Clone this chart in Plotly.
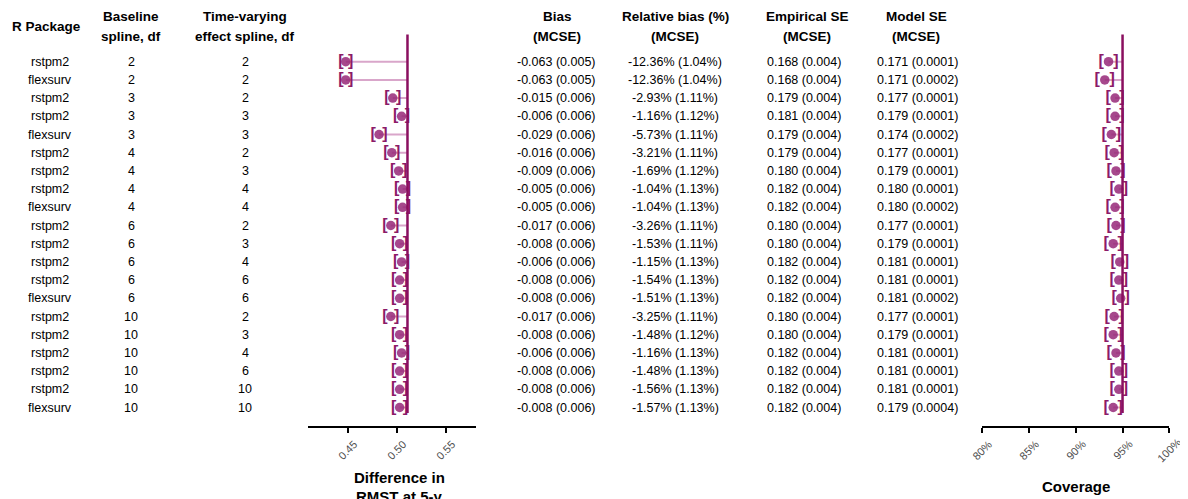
import numpy as np
import plotly.graph_objects as go

# ---------------- data ----------------
packages = ["rstpm2", "flexsurv", "rstpm2", "rstpm2", "flexsurv", "rstpm2", "rstpm2", "rstpm2",
            "flexsurv", "rstpm2", "rstpm2", "rstpm2", "rstpm2", "flexsurv", "rstpm2", "rstpm2",
            "rstpm2", "rstpm2", "rstpm2", "flexsurv"]
baseline_df = [2, 2, 3, 3, 3, 4, 4, 4, 4, 6, 6, 6, 6, 6, 10, 10, 10, 10, 10, 10]
tvc_df = [2, 2, 2, 3, 3, 2, 3, 4, 4, 2, 3, 4, 6, 6, 2, 3, 4, 6, 10, 10]
bias = [-0.063, -0.063, -0.015, -0.006, -0.029, -0.016, -0.009, -0.005, -0.005, -0.017,
        -0.008, -0.006, -0.008, -0.008, -0.017, -0.008, -0.006, -0.008, -0.008, -0.008]
bias_mcse = [0.005, 0.005, 0.006, 0.006, 0.006, 0.006, 0.006, 0.006, 0.006, 0.006,
             0.006, 0.006, 0.006, 0.006, 0.006, 0.006, 0.006, 0.006, 0.006, 0.006]
rel_bias = [-12.36, -12.36, -2.93, -1.16, -5.73, -3.21, -1.69, -1.04, -1.04, -3.26,
            -1.53, -1.15, -1.54, -1.51, -3.25, -1.48, -1.16, -1.48, -1.56, -1.57]
rel_bias_mcse = [1.04, 1.04, 1.11, 1.12, 1.11, 1.11, 1.12, 1.13, 1.13, 1.11,
                 1.11, 1.13, 1.13, 1.13, 1.11, 1.12, 1.13, 1.13, 1.13, 1.13]
emp_se = [0.168, 0.168, 0.179, 0.181, 0.179, 0.179, 0.180, 0.182, 0.182, 0.180,
          0.180, 0.182, 0.182, 0.182, 0.180, 0.180, 0.182, 0.182, 0.182, 0.182]
emp_se_mcse = [0.004] * 20
model_se = [0.171, 0.171, 0.177, 0.179, 0.174, 0.177, 0.179, 0.180, 0.180, 0.177,
            0.179, 0.181, 0.181, 0.181, 0.177, 0.179, 0.181, 0.181, 0.181, 0.179]
model_se_mcse = ["0.0001", "0.0002", "0.0001", "0.0001", "0.0002", "0.0001", "0.0001", "0.0001",
                 "0.0002", "0.0001", "0.0001", "0.0001", "0.0001", "0.0002", "0.0001", "0.0001",
                 "0.0001", "0.0001", "0.0001", "0.0004"]
coverage = [93.5, 93.1, 94.2, 94.2, 93.8, 94.1, 94.3, 94.6, 94.2, 94.3,
            94.0, 94.7, 94.6, 94.8, 94.1, 94.0, 94.3, 94.6, 94.6, 94.0]
true_value = 0.511
nominal_coverage = 95
n_sim = 1000

rmst_ticks = [0.45, 0.50, 0.55]
cov_ticks = [80, 85, 90, 95, 100]

headers = [("R Package", None), ("Baseline", "spline, df"), ("Time-varying", "effect spline, df"),
           ("Bias", "(MCSE)"), ("Relative bias (%)", "(MCSE)"), ("Empirical SE", "(MCSE)"),
           ("Model SE", "(MCSE)")]

# ---------------- styling ----------------
OFF = 8                      # page body margin
W, H = 1188 - OFF, 499 - OFF
FONT = "Liberation Sans, Arial, Helvetica, sans-serif"
DARK = "#8a0f5f"
PT = "rgba(150,40,120,0.85)"
SEG = "#d9a6ca"
BR = "#8c1a68"
row_y0, row_dy = 61.7, 18.2
n = len(packages)
rows = list(range(n))


def fx(px):
    return (px - OFF) / W


def fy(py):
    return 1 - (py - OFF) / H


def px_to_row(py):
    return (py - row_y0) / row_dy


y_bottom_px = 426
y_range = [px_to_row(y_bottom_px), px_to_row(OFF)]
y_domain = [fy(y_bottom_px), 1]

est = [true_value + b for b in bias]
cov_mcse = [np.sqrt(c / 100 * (1 - c / 100) / n_sim) * 100 for c in coverage]

fig = go.Figure()


def forest(xaxis, vals, mcse, ref):
    xs, ys = [], []
    for v, r in zip(vals, rows):
        xs += [v, ref, None]
        ys += [r, r, None]
    fig.add_trace(go.Scatter(x=xs, y=ys, mode="lines", line=dict(color=SEG, width=2),
                             xaxis=xaxis, yaxis="y", hoverinfo="skip"))
    bfont = dict(color=BR, size=16, family=FONT, weight="bold")
    fig.add_trace(go.Scatter(x=[v - m for v, m in zip(vals, mcse)], y=rows, mode="text",
                             text=["["] * n, textfont=bfont,
                             xaxis=xaxis, yaxis="y", hoverinfo="skip"))
    fig.add_trace(go.Scatter(x=[v + m for v, m in zip(vals, mcse)], y=rows, mode="text",
                             text=["]"] * n, textfont=bfont,
                             xaxis=xaxis, yaxis="y", hoverinfo="skip"))
    fig.add_trace(go.Scatter(x=vals, y=rows, mode="markers",
                             marker=dict(color=PT, size=9.5, line=dict(width=0)),
                             xaxis=xaxis, yaxis="y"))
    fig.add_trace(go.Scatter(x=[ref, ref], y=[-1.5, n - 0.7], mode="lines",
                             line=dict(color=DARK, width=2.5), xaxis=xaxis, yaxis="y",
                             hoverinfo="skip"))


forest("x", est, bias_mcse, true_value)
forest("x2", coverage, cov_mcse, nominal_coverage)

ann = []


def text(xp, yp, t, size, color="black", bold=False):
    ann.append(dict(x=fx(xp), y=fy(yp), xref="paper", yref="paper",
                    text=f"<b>{t}</b>" if bold else t, showarrow=False,
                    xanchor="center", yanchor="middle",
                    font=dict(size=size, family=FONT, color=color)))


# headers
head_x = [46, 131, 245, 557, 675, 807, 916]
for (l1, l2), hx in zip(headers, head_x):
    if l2 is None:
        text(hx, 26, l1, 13.5, bold=True)
    else:
        text(hx, 16, l1, 13.5, bold=True)
        text(hx, 36, l2, 13.5, bold=True)

col_x = [50, 131, 245, 556, 675, 804, 917]
for r in rows:
    cells = [packages[r], str(baseline_df[r]), str(tvc_df[r]),
             f"{bias[r]:.3f} ({bias_mcse[r]:.3f})",
             f"{rel_bias[r]:.2f}% ({rel_bias_mcse[r]:.2f}%)",
             f"{emp_se[r]:.3f} ({emp_se_mcse[r]:.3f})",
             f"{model_se[r]:.3f} ({model_se_mcse[r]})"]
    for cx, t in zip(col_x, cells):
        ann.append(dict(x=fx(cx), y=r, xref="paper", yref="y", text=t, showarrow=False,
                        xanchor="center", yanchor="middle",
                        font=dict(size=12.5, family=FONT, color="black")))

# rotated tick labels
tick_y = fy(450)
for t in rmst_ticks:
    ann.append(dict(x=t, y=tick_y, xref="x", yref="paper", text=f"{t:.2f}", textangle=-45,
                    showarrow=False, xanchor="center", yanchor="middle",
                    font=dict(size=11, family=FONT, color="#4d4d4d")))
for t in cov_ticks:
    ann.append(dict(x=t, y=tick_y, xref="x2", yref="paper", text=f"{t}%", textangle=-45,
                    showarrow=False, xanchor="center", yanchor="middle",
                    font=dict(size=11, family=FONT, color="#4d4d4d")))

# axis titles
text(399, 477, "Difference in", 15, bold=True)
text(399, 496, "RMST at 5-y", 15, bold=True)
text(1076, 486, "Coverage", 15, bold=True)

axis_common = dict(showgrid=False, zeroline=False, showline=True, linecolor="black", linewidth=1.5,
                   ticks="outside", ticklen=5, tickwidth=1.5, tickcolor="black", showticklabels=False,
                   fixedrange=True, anchor="y")

fig.update_layout(
    width=W, height=H, margin=dict(l=0, r=0, t=0, b=0),
    paper_bgcolor="white", plot_bgcolor="rgba(0,0,0,0)",
    showlegend=False,
    xaxis=dict(domain=[fx(308), fx(475.7)], range=[0.4095, 0.5806], tickvals=rmst_ticks, **axis_common),
    xaxis2=dict(domain=[fx(982.3), fx(1169.3)], range=[80, 100], tickvals=cov_ticks, **axis_common),
    yaxis=dict(domain=y_domain, range=y_range, visible=False, fixedrange=True),
    annotations=ann,
)

fig.write_html("out.html")
